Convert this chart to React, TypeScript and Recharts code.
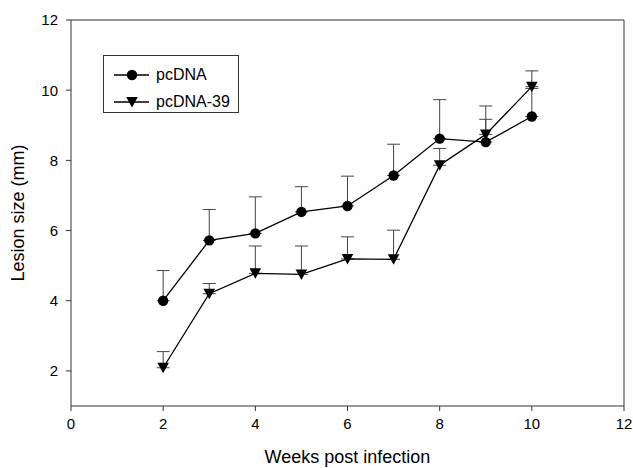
import React from 'react';
import {
  ComposedChart,
  Line,
  XAxis,
  YAxis,
  ErrorBar,
  ReferenceLine,
} from 'recharts';

const weeks = [2, 3, 4, 5, 6, 7, 8, 9, 10];
const pcdnaMean = [4.0, 5.72, 5.92, 6.53, 6.7, 7.57, 8.62, 8.52, 9.25];
const pcdnaErr = [0.86, 0.88, 1.04, 0.72, 0.85, 0.89, 1.11, 1.03, 0.8];
const pcdna39Mean = [2.09, 4.2, 4.78, 4.75, 5.19, 5.18, 7.86, 8.74, 10.1];
const pcdna39Err = [0.46, 0.29, 0.78, 0.81, 0.63, 0.83, 0.48, 0.43, 0.45];
const xTicks = [0, 2, 4, 6, 8, 10, 12];
const yTicks = [2, 4, 6, 8, 10, 12];

const data = weeks.map((w, i) => ({
  week: w,
  pcdna: pcdnaMean[i],
  pcdnaErr: [0, pcdnaErr[i]],
  pcdna39: pcdna39Mean[i],
  pcdna39Err: [0, pcdna39Err[i]],
}));

const font = '"Liberation Sans", Arial, sans-serif';

function CircleDot(props: any) {
  const { cx, cy } = props;
  if (cx == null || cy == null) return null;
  return <circle cx={cx} cy={cy} r={5.2} fill="#000" />;
}

function TriangleDot(props: any) {
  const { cx, cy } = props;
  if (cx == null || cy == null) return null;
  return (
    <polygon
      points={`${cx - 5.8},${cy - 5} ${cx + 5.8},${cy - 5} ${cx},${cy + 5.5}`}
      fill="#000"
    />
  );
}

// legend drawn as an overlay so it doesn't eat into the plot area
function LegendBox() {
  const rows = [
    { name: 'pcDNA', shape: 'circle' },
    { name: 'pcDNA-39', shape: 'triangle' },
  ];
  return (
    <div
      style={{
        position: 'absolute',
        left: 103,
        top: 55,
        width: 134,
        height: 56,
        border: '1px solid #333',
        background: '#fff',
        fontFamily: font,
        fontSize: 16,
        color: '#000',
      }}
    >
      {rows.map((r, i) => (
        <div
          key={r.name}
          style={{
            position: 'absolute',
            left: 10,
            top: 10 + i * 26.5,
            height: 18,
            display: 'flex',
            alignItems: 'center',
          }}
        >
          <svg width={36} height={18}>
            <line x1={0} y1={9} x2={35} y2={9} stroke="#000" strokeWidth={1.3} />
            {r.shape === 'circle' ? (
              <circle cx={18} cy={9} r={5.2} fill="#000" />
            ) : (
              <polygon points="12.2,4 23.8,4 18,14.5" fill="#000" />
            )}
          </svg>
          <span style={{ marginLeft: 6 }}>{r.name}</span>
        </div>
      ))}
    </div>
  );
}

export default function App() {
  return (
    <div style={{ position: 'absolute', left: 0, top: 0, width: 633, height: 468, background: '#fff' }}>
      <ComposedChart
        width={633}
        height={468}
        data={data}
        margin={{ top: 20, right: 9, bottom: 0, left: 0 }}
      >
        <XAxis
          dataKey="week"
          type="number"
          domain={[0, 12]}
          ticks={xTicks}
          interval={0}
          height={62}
          stroke="#333"
          tickSize={5}
          tickMargin={7}
          tick={{ fill: '#000', fontSize: 15, fontFamily: font }}
          label={{
            value: 'Weeks post infection',
            position: 'insideBottom',
            offset: 5,
            style: { fill: '#000', fontSize: 18, fontFamily: font },
          }}
        />
        <YAxis
          type="number"
          domain={[1, 12]}
          ticks={yTicks}
          interval={0}
          width={71}
          stroke="#333"
          tickSize={5}
          tickMargin={8}
          tick={{ fill: '#000', fontSize: 15, fontFamily: font }}
          label={{
            value: 'Lesion size (mm)',
            position: 'insideLeft',
            angle: -90,
            offset: 18,
            style: { fill: '#000', fontSize: 18, fontFamily: font, textAnchor: 'middle' },
          }}
        />
        <ReferenceLine y={12} stroke="#333" strokeWidth={1} />
        <ReferenceLine x={12} stroke="#333" strokeWidth={1} />
        <Line
          dataKey="pcdna"
          name="pcDNA"
          stroke="#000"
          strokeWidth={1.3}
          dot={<CircleDot />}
          activeDot={false}
          isAnimationActive={false}
        >
          <ErrorBar dataKey="pcdnaErr" direction="y" width={6.5} stroke="#444" strokeWidth={1} />
        </Line>
        <Line
          dataKey="pcdna39"
          name="pcDNA-39"
          stroke="#000"
          strokeWidth={1.3}
          dot={<TriangleDot />}
          activeDot={false}
          isAnimationActive={false}
        >
          <ErrorBar dataKey="pcdna39Err" direction="y" width={6.5} stroke="#444" strokeWidth={1} />
        </Line>
      </ComposedChart>
      <LegendBox />
    </div>
  );
}
